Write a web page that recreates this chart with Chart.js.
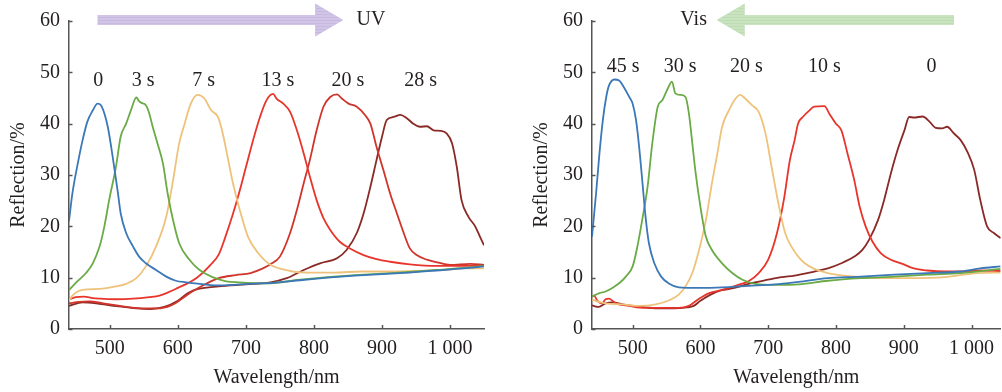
<!DOCTYPE html>
<html>
<head>
<meta charset="utf-8">
<script src="https://cdn.jsdelivr.net/npm/chart.js"></script>
<style>
  body { margin: 0; background: #fff; }
  #wrap { position: relative; width: 1002px; height: 392px; }
  canvas { position: absolute; top: 0; }
</style>
</head>
<body>
<div id="wrap">
  <canvas id="uvChart" width="500" height="392" style="left:0"></canvas>
  <canvas id="visChart" width="500" height="392" style="left:502px"></canvas>
</div>
<script>
// tick values
const xTicks = [500, 600, 700, 800, 900, 1000];
const yTicks = [0, 10, 20, 30, 40, 50, 60];

// left panel (UV): [wavelength nm, reflection %]
const uv0 = [[440,21],[445,26.4],[453,32.3],[460,36.8],[467,40.4],[475,42.6],[482,43.9],[487,43.6],[492,42],[497,39.4],[502,35.5],[507,31],[512,26.4],[516,22.5],[524,18.7],[534,16.1],[543,14.1],[553,12.8],[568,11.5],[583,10.2],[597,9.4],[612,9.1],[632,8.8],[656,8.5],[681,8.6],[705,8.8],[740,9.0],[780,9.5],[820,10.0],[860,10.4],[900,10.7],[940,11.0],[980,11.4],[1020,11.8],[1050,12.2]];
const uv3 = [[440,7.6],[450,9.0],[465,10.9],[475,12.8],[485,16.1],[492,20],[499,25.1],[509,31.6],[516,37.5],[524,40],[531,42.6],[539,45.1],[543,44.4],[546,44.1],[553,43.6],[558,42],[563,39.4],[570,36.2],[578,32.3],[585,26.4],[593,21.2],[602,16.7],[617,13.5],[632,11.5],[651,10.1],[671,9.3],[690,9.1],[730,8.9],[780,9.6],[820,10.1],[860,10.5],[900,10.8],[940,11.1],[980,11.5],[1020,11.9],[1050,12.3]];
const uv7 = [[440,5.5],[445,6.5],[460,7.6],[485,7.8],[509,8.3],[524,8.8],[539,9.9],[553,12.2],[568,16.1],[583,21.9],[593,29],[602,36.2],[610,40],[619,43.9],[629,45.6],[639,44.9],[649,42.6],[659,41.3],[666,38.1],[673,33.6],[681,28.4],[691,23.2],[703,18],[718,14.8],[735,12.6],[765,11.3],[794,11.0],[830,11.0],[870,11.2],[910,11.2],[950,11.3],[990,11.5],[1020,11.8],[1050,11.8]];
const uv13 = [[440,5.7],[450,6.2],[462,6.3],[475,6.0],[485,5.9],[509,5.8],[534,5.9],[558,6.2],[573,6.5],[600,8.0],[627,9.9],[648,12.5],[660,14.5],[670,18],[680,22],[690,26.5],[700,31.5],[710,36.5],[720,41],[730,44.5],[740,45.8],[745,44.9],[755,43.9],[765,42.3],[775,38.7],[785,34.2],[794,29.7],[804,25.1],[814,21.6],[824,19.3],[838,17.0],[853,15.7],[873,14.4],[892,13.6],[912,13.1],[941,12.6],[981,12.3],[1030,12.3],[1050,12.3]];
const uv20 = [[440,5.0],[455,5.3],[470,5.4],[490,5.0],[510,4.6],[530,4.2],[550,4.0],[570,4.0],[590,4.6],[605,5.8],[620,7.2],[643,8.9],[660,9.9],[685,10.5],[707,10.9],[725,11.8],[736,12.6],[750,14.1],[765,18.7],[775,23.2],[785,28.4],[794,32.9],[804,38.7],[814,43.3],[824,45.2],[834,45.7],[841,44.9],[851,43.9],[863,43.3],[875,41.7],[883,40],[892,35.5],[902,31],[912,26.4],[922,22.5],[932,18.7],[941,15.7],[951,14.4],[966,13.5],[981,13],[1000,12.5],[1030,12.7],[1050,12.5]];
const uv28 = [[440,4.5],[460,5.2],[480,5.0],[500,4.6],[520,4.3],[540,4.0],[560,3.9],[580,4.3],[600,5.5],[615,7.0],[630,7.8],[660,8.3],[700,8.7],[736,9.1],[760,9.9],[785,11.5],[809,12.8],[834,13.8],[848,15.4],[863,18.7],[873,22.5],[883,27.7],[892,32.9],[900,37.4],[907,40.7],[917,41.3],[927,41.7],[937,41],[946,40],[956,39.4],[966,39.5],[976,38.7],[986,38.6],[995,38.1],[1003,36.2],[1010,31.6],[1017,25.1],[1027,21.9],[1037,20],[1044,18],[1050,16.3]];

// right panel (Vis)
const vis45 = [[440,18],[446,26.4],[451,34.2],[456,40.7],[461,45.2],[465,47.4],[473,48.6],[480,48.4],[487,47.1],[495,45.2],[500,43.9],[505,40.7],[510,34.9],[515,27.7],[519,21.9],[524,16.7],[532,12.8],[542,10.2],[554,8.8],[568,8.1],[598,8.0],[632,8.1],[671,8.4],[710,8.7],[745,9.2],[788,9.9],[837,10.2],[886,10.6],[935,10.9],[984,11.2],[1013,11.8],[1043,12.2]];
const vis30 = [[440,6.3],[451,7.0],[460,7.3],[470,8.0],[480,8.9],[490,10.2],[500,12.2],[507,16.1],[514,21.2],[522,27.7],[529,36.2],[537,43.3],[544,44.6],[552,46.9],[558,48.2],[563,45.9],[571,45.6],[578,45.2],[583,42],[588,36.2],[593,30.3],[600,23.8],[608,18],[617,15.4],[632,12.8],[647,10.9],[662,9.6],[681,8.8],[710,8.6],[745,8.7],[788,9.4],[837,9.9],[886,10.2],[935,10.6],[984,10.9],[1043,11.7]];
const vis20 = [[440,5.7],[460,5.0],[485,4.8],[510,4.5],[534,4.8],[554,5.6],[568,6.7],[578,8.3],[588,10.9],[598,15.4],[608,21.2],[617,28.4],[625,34.2],[632,39.4],[642,42.6],[652,44.9],[659,45.6],[666,44.9],[676,43.6],[686,42.3],[696,38.1],[705,31.6],[715,24.5],[725,18.7],[735,15.9],[745,14.0],[754,12.8],[768,11.7],[788,10.9],[812,10.4],[862,9.9],[911,9.9],[960,10.1],[1009,10.9],[1043,11.0]];
const vis10 = [[440,6.3],[443,6.5],[448,5.5],[455,5.0],[460,5.8],[465,5.9],[475,5.0],[495,4.5],[519,4.1],[544,4.1],[568,4.1],[583,4.5],[598,5.9],[613,7.0],[632,7.6],[656,8.6],[671,9.3],[686,10.9],[700,13.5],[713,18.7],[723,25.1],[732,32.9],[739,36.8],[744,40],[751,41.3],[761,42.6],[768,43.3],[783,43.4],[790,42],[800,40],[808,38.7],[817,34.2],[827,29],[835,23.8],[844,19.9],[854,17.0],[866,14.8],[881,13.5],[896,12.8],[915,11.8],[935,11.4],[960,11.2],[984,11.2],[1013,11.4],[1043,11.3]];
const vis0 = [[440,4.6],[450,4.3],[460,5.0],[470,5.2],[485,4.8],[500,4.5],[520,4.2],[540,4.0],[560,4.0],[580,4.2],[590,4.5],[600,5.5],[615,6.7],[630,7.5],[650,8.0],[671,8.8],[700,9.6],[720,10.1],[739,10.4],[768,11.2],[788,11.8],[808,12.8],[827,14.1],[839,15.4],[849,17.4],[862,21.2],[871,25.1],[881,30.3],[891,34.9],[901,38.7],[908,41.3],[915,41.2],[928,41.4],[938,40.4],[947,39.2],[957,39.1],[964,39.4],[974,38.1],[984,36.8],[994,34.5],[1004,31],[1013,25.1],[1023,20],[1033,18.7],[1043,17.7]];

// curve labels and where they sit (nm)
const uvLabels = ["0", "3 s", "7 s", "13 s", "20 s", "28 s"];
const uvLabelX = [483, 549, 638, 747, 850, 957];
const visLabels = ["45 s", "30 s", "20 s", "10 s", "0"];
const visLabelX = [486, 570, 668, 783, 941];

const FONT = '"Liberation Serif", "Times New Roman", serif';
const TXT = "#231f20";
const AXIS = "#555";

function line(ctx, x1, y1, x2, y2) {
  ctx.beginPath(); ctx.moveTo(x1, y1); ctx.lineTo(x2, y2); ctx.stroke();
}

// arrow drawn with horizontal stripes
function arrow(ctx, tail, tip, cy, base, stripe) {
  const dir = tip > tail ? 1 : -1;
  const headLen = 28, half = 5, headHalf = 16.5;
  const hb = tip - dir * headLen;
  ctx.save();
  ctx.beginPath();
  ctx.moveTo(tail, cy - half);
  ctx.lineTo(hb, cy - half);
  ctx.lineTo(hb, cy - headHalf);
  ctx.lineTo(tip, cy);
  ctx.lineTo(hb, cy + headHalf);
  ctx.lineTo(hb, cy + half);
  ctx.lineTo(tail, cy + half);
  ctx.closePath();
  ctx.fillStyle = base;
  ctx.fill();
  ctx.clip();
  ctx.strokeStyle = stripe;
  ctx.lineWidth = 1;
  for (let yy = cy - headHalf; yy <= cy + headHalf; yy += 3) {
    line(ctx, Math.min(tail, tip), yy + 0.5, Math.max(tail, tip), yy + 0.5);
  }
  ctx.restore();
}

const deco = {
  id: "deco",
  afterDraw(chart, args, opts) {
    const { ctx, chartArea: a, scales: { x, y } } = chart;
    ctx.save();
    ctx.strokeStyle = AXIS;
    ctx.lineWidth = 1.5;
    xTicks.forEach(v => {
      const px = Math.round(x.getPixelForValue(v)) + 0.5;
      line(ctx, px, a.bottom, px, a.bottom - 4);
    });
    yTicks.forEach(v => {
      const py = Math.round(y.getPixelForValue(v)) + 0.5;
      line(ctx, a.left, py, a.left + 3.5, py);
    });

    ctx.fillStyle = TXT;
    ctx.font = "20px " + FONT;
    ctx.textAlign = "center";
    ctx.textBaseline = "middle";
    opts.labels.forEach((t, i) => {
      ctx.fillText(t, x.getPixelForValue(opts.labelX[i]), y.getPixelForValue(opts.labelY));
    });

    const cy = y.getPixelForValue(60) - 1;
    arrow(ctx, x.getPixelForValue(opts.arrowFrom), x.getPixelForValue(opts.arrowTo), cy, opts.arrowColor, opts.stripeColor);
    ctx.fillStyle = TXT;
    ctx.fillText(opts.tag, x.getPixelForValue(opts.tagX), cy);
    ctx.restore();
  }
};

function makeChart(id, series, colors, xMax, yWidth, titlePad, padRight, deco) {
  new Chart(document.getElementById(id), {
    type: "line",
    data: {
      datasets: series.map((s, i) => ({
        data: s.map(([x, y]) => ({ x, y })),
        borderColor: colors[i],
        borderWidth: 1.8,
        pointRadius: 0,
        fill: false,
        cubicInterpolationMode: "monotone"
      }))
    },
    options: {
      responsive: false,
      animation: false,
      events: [],
      layout: { padding: { top: 21, right: padRight, bottom: 0, left: 0 } },
      plugins: { legend: { display: false }, tooltip: { enabled: false }, deco: deco },
      scales: {
        x: {
          type: "linear",
          min: 440,
          max: xMax,
          afterBuildTicks: s => { s.ticks = xTicks.map(v => ({ value: v })); },
          afterFit: s => { s.height = 63; },
          grid: { display: false, drawTicks: false },
          border: { display: true, color: AXIS, width: 1.5 },
          ticks: {
            padding: 8,
            color: TXT,
            font: { family: FONT, size: 20 },
            maxRotation: 0,
            callback: v => (v >= 1000 ? "1 000" : String(v))
          },
          title: { display: true, text: "Wavelength/nm", color: TXT, font: { family: FONT, size: 20 }, padding: { top: 0, bottom: 2 } }
        },
        y: {
          min: 0,
          max: 60,
          afterBuildTicks: s => { s.ticks = yTicks.map(v => ({ value: v })); },
          afterFit: s => { s.width = yWidth; },
          grid: { display: false, drawTicks: false },
          border: { display: true, color: AXIS, width: 1.5 },
          ticks: { padding: 9, color: TXT, font: { family: FONT, size: 20 } },
          title: { display: true, text: "Reflection/%", color: TXT, font: { family: FONT, size: 20 }, padding: { top: titlePad, bottom: 0 } }
        }
      }
    },
    plugins: [deco]
  });
}

Chart.register(deco);

makeChart("uvChart",
  [uv0, uv3, uv7, uv13, uv20, uv28],
  ["#3b78b8", "#6aab46", "#efc27c", "#e8352b", "#d0352c", "#8a2a26"],
  1050, 69, 6.5, 16,
  { labels: uvLabels, labelX: uvLabelX, labelY: 48.4, arrowFrom: 482, arrowTo: 843,
    arrowColor: "#c7b8df", stripeColor: "#dbd1ec", tag: "UV", tagX: 884 });

makeChart("visChart",
  [vis45, vis30, vis20, vis10, vis0],
  ["#3b78b8", "#6aab46", "#efc27c", "#e8352b", "#8a2a26"],
  1043, 90, 28, 0,
  { labels: visLabels, labelX: visLabelX, labelY: 51.1, arrowFrom: 974, arrowTo: 624,
    arrowColor: "#bcdcb2", stripeColor: "#d6ead0", tag: "Vis", tagX: 590 });
</script>
</body>
</html>
